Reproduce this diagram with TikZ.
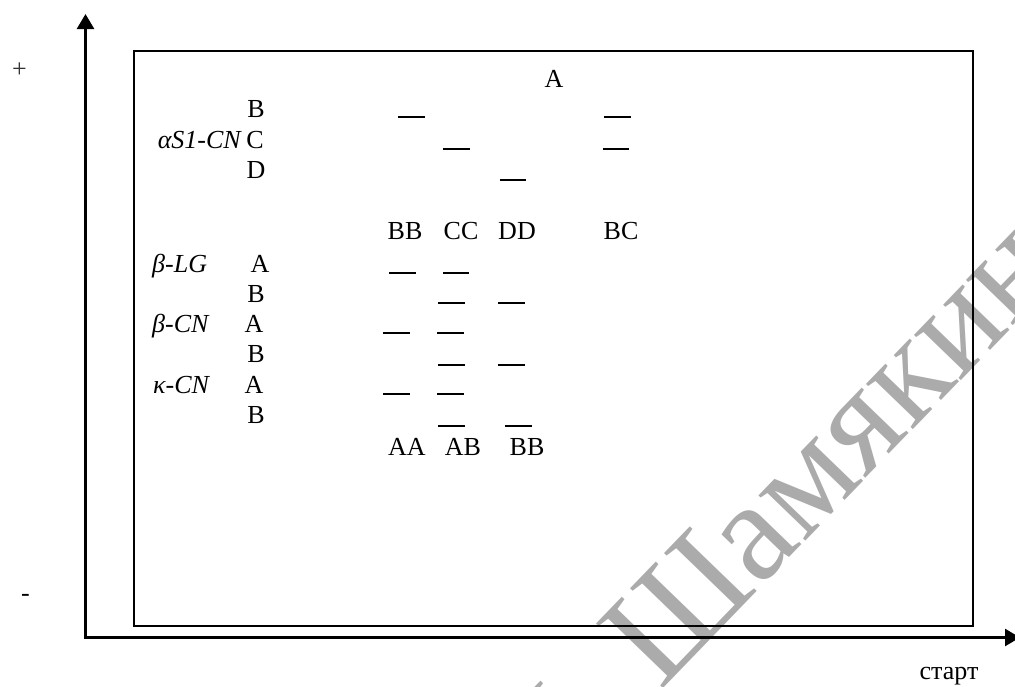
\documentclass[tikz,border=0pt]{standalone}
\usepackage{fontspec}
\setmainfont{Liberation Serif}
\usetikzlibrary{arrows.meta}
\newcommand{\txtsize}{\fontsize{26}{30}\selectfont}
\newcommand{\wmsize}{\fontsize{142}{160}\selectfont}
\tikzset{
  lbl/.style={anchor=base, inner sep=0pt, font=\txtsize},
  ilbl/.style={anchor=base west, inner sep=0pt, font=\txtsize\itshape},
  band/.style={line width=1.4pt},
  axis/.style={line width=2.6pt, line join=miter},
  frame/.style={line width=2pt},
  wm/.style={inner sep=0pt, text=black!33, font=\wmsize, rotate=46, anchor=base west}
}
\begin{document}
\begin{tikzpicture}[x=1pt,y=-1pt]
\useasboundingbox (0,0) rectangle (1015,686);
% watermark
\node[wm] (wm) at (660,692) {\llap{И.\,П.\ }Шамякина};
% axes
\coordinate (ytip) at (85.5,14);
\coordinate (O) at (85.5,637.5);
\coordinate (xtip) at (1020,637.5);
\draw[axis, {Triangle[width=17pt,length=15pt]}-{Triangle[width=17pt,length=15pt]}] (ytip) -- (O) -- (xtip);
% frame
\draw[frame] (133.5,51) rectangle (973,626);
% axis labels
\node[inner sep=0pt, font=\txtsize, text=black!80] (plus) at (19.5,70) {+};
\node[inner sep=0pt, font=\txtsize] (minus) at (25.5,598) {-};
\node[lbl] (start) at (949,679) {старт};
% alpha S1-CN
\node[lbl] (tA) at (554,87) {A};
\node[lbl] (aB) at (256,117) {B};
\node[anchor=base east, inner sep=0pt, font=\txtsize\itshape] (aS1) at (241,148) {αS1-CN};
\node[lbl] (aC) at (255,148) {C};
\node[lbl] (aD) at (256,178) {D};
\draw[band] (398,117) -- (425,117);
\draw[band] (604,117) -- (631,117);
\draw[band] (443,149) -- (470,149);
\draw[band] (603,149) -- (629,149);
\draw[band] (500,180) -- (526,180);
\node[lbl] (gBB) at (405,239) {BB};
\node[lbl] (gCC) at (461,239) {CC};
\node[lbl] (gDD) at (517,239) {DD};
\node[lbl] (gBC) at (621,239) {BC};
% beta-LG
\node[ilbl] (bLG) at (152,272) {β-LG};
\node[lbl] (bLGA) at (260,272) {A};
\node[lbl] (bLGB) at (256,302) {B};
\draw[band] (389,273) -- (416,273);
\draw[band] (443,273) -- (469,273);
\draw[band] (438,303) -- (465,303);
\draw[band] (498,303) -- (525,303);
% beta-CN
\node[ilbl] (bCN) at (152,332) {β-CN};
\node[lbl] (bCNA) at (254,332) {A};
\node[lbl] (bCNB) at (256,362) {B};
\draw[band] (383,333) -- (410,333);
\draw[band] (437,333) -- (464,333);
\draw[band] (438,365) -- (465,365);
\draw[band] (498,365) -- (525,365);
% kappa-CN
\node[ilbl] (kCN) at (153,393) {κ-CN};
\node[lbl] (kCNA) at (254,393) {A};
\node[lbl] (kCNB) at (256,423) {B};
\draw[band] (383,394) -- (410,394);
\draw[band] (437,394) -- (464,394);
\draw[band] (438,426) -- (465,426);
\draw[band] (505,426) -- (532,426);
\node[lbl] (gAA) at (407,455) {AA};
\node[lbl] (gAB) at (463,455) {AB};
\node[lbl] (gBB2) at (527,455) {BB};
\end{tikzpicture}
\end{document}
